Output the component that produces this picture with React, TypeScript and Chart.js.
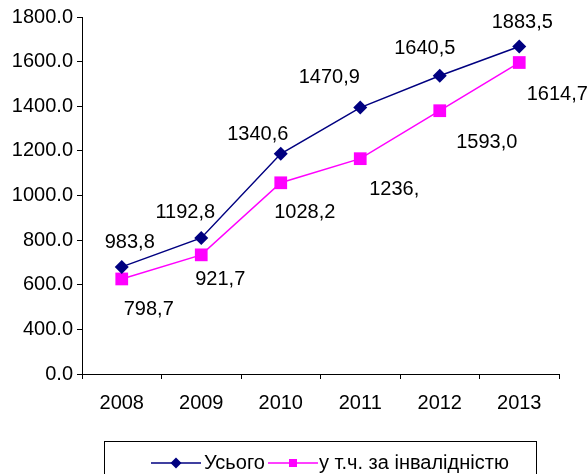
import { useEffect, useRef } from "react";
import { Chart, registerables } from "chart.js";
Chart.register(...registerables);

const years = ["2008", "2009", "2010", "2011", "2012", "2013"];
const totalValues = [680, 810, 1187, 1394, 1537, 1668];
const disabilityValues = [626, 734, 1057, 1165, 1380, 1596];
const totalLabels = ["983,8", "1192,8", "1340,6", "1470,9", "1640,5", "1883,5"];
const disabilityLabels = ["798,7", "921,7", "1028,2", "1236,", "1593,0", "1614,7"];
const yTickLabels = ["0.0", "400.0", "600.0", "800.0", "1000.0", "1200.0", "1400.0", "1600.0", "1800.0"];
const seriesNames = ["Усього", "у т.ч. за інвалідністю"];

const FONT = '"Liberation Sans", Arial, sans-serif';
const FS = 20;
const NAVY = "#000080";
const MAGENTA = "#FF00FF";

const labelOffsets = [
  [[8, -24], [-16, -25], [-23, -19], [-31, -30], [-15, -27], [3, -24]],
  [[27, 31], [19, 25], [24, 30], [34, 31], [47, 32], [38, 32]],
];

const valueLabelPlugin = {
  id: "valueLabels",
  afterDatasetsDraw(chart: any) {
    const ctx = chart.ctx;
    const texts = [totalLabels, disabilityLabels];
    ctx.save();
    ctx.font = `${FS}px ${FONT}`;
    ctx.fillStyle = "#000";
    ctx.textAlign = "center";
    ctx.textBaseline = "middle";
    texts.forEach((arr, i) => {
      const meta = chart.getDatasetMeta(i);
      meta.data.forEach((pt: any, j: number) => {
        const off = labelOffsets[i][j];
        ctx.fillText(arr[j], pt.x + off[0], pt.y + off[1]);
      });
    });
    ctx.restore();
  },
};

const legendPlugin = {
  id: "customLegend",
  afterDraw(chart: any) {
    const ctx = chart.ctx;
    ctx.save();
    ctx.strokeStyle = "#000";
    ctx.lineWidth = 1;
    ctx.strokeRect(104.5, 441.5, 432, 60);
    const cy = 463;
    ctx.strokeStyle = NAVY;
    ctx.lineWidth = 1.5;
    ctx.beginPath();
    ctx.moveTo(151, cy);
    ctx.lineTo(201, cy);
    ctx.stroke();
    ctx.fillStyle = NAVY;
    ctx.beginPath();
    ctx.moveTo(176, cy - 5.5);
    ctx.lineTo(181.5, cy);
    ctx.lineTo(176, cy + 5.5);
    ctx.lineTo(170.5, cy);
    ctx.closePath();
    ctx.fill();
    ctx.strokeStyle = MAGENTA;
    ctx.beginPath();
    ctx.moveTo(268, cy);
    ctx.lineTo(318, cy);
    ctx.stroke();
    ctx.fillStyle = MAGENTA;
    ctx.fillRect(289, cy - 4, 8, 8);
    ctx.fillStyle = "#000";
    ctx.font = `${FS}px ${FONT}`;
    ctx.textAlign = "left";
    ctx.textBaseline = "middle";
    ctx.fillText(seriesNames[0], 204, cy);
    ctx.fillText(seriesNames[1], 319, cy);
    ctx.restore();
  },
};

export default function App() {
  const ref = useRef<HTMLCanvasElement | null>(null);
  useEffect(() => {
    document.body.style.margin = "0";
    const chart = new Chart(ref.current as HTMLCanvasElement, {
      type: "line",
      data: {
        labels: years,
        datasets: [
          {
            label: seriesNames[0],
            data: totalValues,
            borderColor: NAVY,
            backgroundColor: NAVY,
            borderWidth: 1.5,
            pointStyle: "rectRot",
            pointRadius: 7,
            pointBorderWidth: 0,
            tension: 0,
            clip: false as any,
          },
          {
            label: seriesNames[1],
            data: disabilityValues,
            borderColor: MAGENTA,
            backgroundColor: MAGENTA,
            borderWidth: 1.5,
            pointStyle: "rect",
            pointRadius: 9,
            pointBorderWidth: 0,
            tension: 0,
            clip: false as any,
          },
        ],
      },
      options: {
        animation: false,
        responsive: true,
        maintainAspectRatio: false,
        layout: { padding: { top: 17, right: 28, left: 0, bottom: 0 } },
        plugins: {
          legend: { display: false },
          tooltip: { enabled: false },
        },
        scales: {
          x: {
            type: "category",
            offset: true,
            grid: {
              offset: true,
              drawOnChartArea: false,
              drawTicks: true,
              tickLength: 5,
              color: "#000",
            },
            border: { display: true, color: "#000", width: 1 },
            ticks: {
              color: "#000",
              font: { family: FONT, size: FS },
              padding: 12,
              maxRotation: 0,
            },
            afterFit(scale: any) {
              scale.height = 100;
            },
          },
          y: {
            type: "linear",
            min: 200,
            max: 1800,
            grid: {
              drawOnChartArea: false,
              drawTicks: true,
              tickLength: 5,
              color: "#000",
            },
            border: { display: true, color: "#000", width: 1 },
            ticks: {
              stepSize: 200,
              color: "#000",
              font: { family: FONT, size: FS },
              padding: 4,
              callback: (_v: any, i: number) => yTickLabels[i],
            },
            afterFit(scale: any) {
              scale.width = 82;
            },
          },
        },
      },
      plugins: [valueLabelPlugin, legendPlugin],
    });
    return () => chart.destroy();
  }, []);
  return (
    <div style={{ width: 587, height: 474, position: "relative" }}>
      <canvas ref={ref} />
    </div>
  );
}
